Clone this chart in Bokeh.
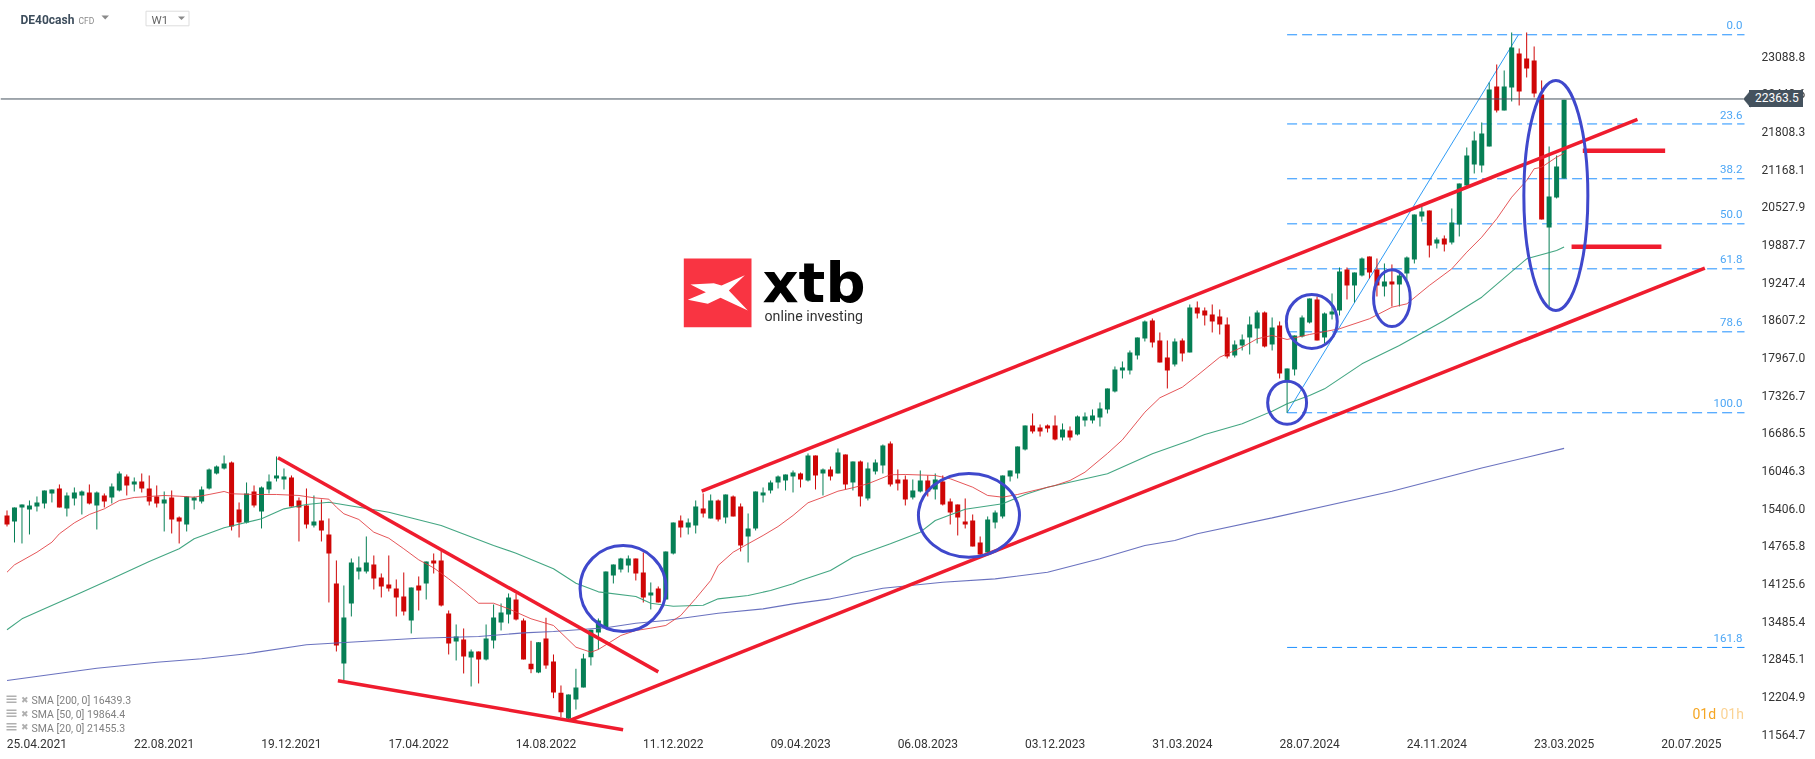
from bokeh.plotting import figure
from bokeh.layouts import column
from bokeh.models import Range1d, FixedTicker, PrintfTickFormatter, ColumnDataSource, Div, PolyAnnotation
from bokeh.core.properties import value
from bokeh.embed import file_html
from bokeh.resources import INLINE

CAL = -15  # calibration of the values

opens = [15298,15196,15434,15400,15451,15502,15672,15757,15417,15587,
15638,15689,15468,15638,15604,15723,15961,15825,15876,15757,
15621,15502,15604,15264,15145,15553,15536,15757,16012,16097,
16199,15400,15179,15706,15366,15740,15927,15910,15944,15553,
15468,15128,15213,14975,14142,12782,13802,14346,14346,14465,
14244,14125,14057,13921,13513,14108,14142,14533,14533,13632,
13156,13190,12884,12986,12850,13173,13479,13615,13870,13513,
12777,12629,13207,12816,12284,11842,12170,12374,12889,13309,
13394,14278,14380,14448,14567,14329,13938,14057,13870,14652,
15213,15094,15128,15417,15247,15553,15264,15621,15451,14941,
15077,15638,15723,15859,15893,15961,16012,15893,16318,16012,
16080,16012,16335,15859,16216,15587,16046,16148,16522,15910,
15910,15604,15706,15893,15740,15876,15536,15485,15196,15213,
14839,14669,15179,15281,15961,16012,16420,16828,16794,16828,
16828,16624,16743,16675,16913,16913,16964,17100,17406,17763,
17763,18018,18307,18613,18273,17984,17865,18273,18069,18834,
18783,18715,18681,18545,18018,18188,18324,18477,18749,18205,
18528,17593,17780,18341,18579,18970,18324,18715,18783,19480,
19208,19378,19701,19480,19191,19276,19225,19412,19650,20381,
20483,19922,20007,19939,20245,20908,21265,21248,21571,22591,
22183,22574,23152,23067,23033,22455,20194,20704,21027]
highs = [15383,15434,15485,15553,15621,15723,15740,15825,15689,15774,
15723,15825,15706,15672,15842,16046,15995,15944,16012,15978,
15808,15706,15723,15281,15621,15621,15791,16097,16148,16318,
16216,15519,15859,15808,15791,15995,16301,16097,15978,15604,
15757,15638,15570,15247,14533,14108,14567,14601,14941,14618,
14312,14618,14210,14329,14074,14261,14516,14652,14703,13683,
13445,13377,13020,12986,13445,13785,13802,13972,13972,13547,
13168,13144,13559,12935,12408,12255,12692,12947,13355,13547,
14346,14465,14578,14618,14567,14669,14159,14091,14686,15179,
15298,15247,15553,15672,15655,15570,15655,15638,15502,15332,
15706,15774,15893,15978,15995,16063,16029,16352,16318,16097,
16131,16437,16335,16216,16233,16199,16250,16505,16556,16080,
15978,15910,16063,15978,16012,15978,15587,15485,15587,15315,
14941,15281,15383,15978,16063,16471,16828,17032,16845,16845,
16998,16862,16811,16998,17049,17100,17219,17457,17831,17916,
18103,18324,18613,18647,18409,18273,18307,18307,18885,18936,
18834,18885,18800,18664,18273,18375,18681,18783,18766,18664,
18596,17797,18358,18698,18987,19021,18749,19072,19514,19514,
19429,19684,19701,19667,19582,19565,19446,19701,20415,20551,
20483,20024,20058,20517,20942,21554,21826,21979,22659,22965,
22863,23509,23237,23509,23271,22693,21571,21418,22364]
lows = [15111,14839,14822,14975,15366,15417,15519,15434,15281,15468,
15315,15485,15060,15434,15502,15706,15638,15706,15689,15468,
15434,15026,14992,14822,15026,15400,15502,15740,15995,16080,
15043,14924,15162,15434,15077,15672,15876,15740,15451,14856,
15077,15094,14856,13819,12986,12493,13581,14210,14312,14040,
13904,14006,13581,13598,13292,13683,13870,14312,13751,12935,
12833,12612,12391,12442,12833,13037,13343,13462,13513,12850,
12617,12617,12692,12192,11870,11813,11999,12374,12748,13020,
13394,14142,14329,14329,14193,13819,13700,13819,13870,14635,
14924,14975,14992,15264,15247,15196,15162,15281,14686,14499,
15043,15519,15672,15757,15723,15689,15774,15876,15740,15638,
15893,16012,15740,15723,15451,15553,15995,16012,15791,15723,
15468,15570,15689,15621,15570,15468,15145,14958,15077,14771,
14618,14652,15077,15247,15876,15927,16403,16692,16641,16709,
16573,16573,16573,16658,16811,16862,16811,17032,17389,17627,
17695,17950,18256,18154,17899,17457,17831,17916,18069,18647,
18528,18409,18375,17967,17984,18103,18035,18222,18154,18103,
17627,17044,17678,18324,18562,18273,18222,18630,18698,18970,
18919,19361,19327,19021,19021,18851,18851,19293,19582,20296,
19684,19837,19786,19905,20041,20874,21112,21129,21571,22149,
22183,22336,22268,22744,22404,20330,18851,20687,21027]
closes = [15145,15434,15485,15468,15519,15723,15740,15434,15638,15689,
15706,15502,15689,15536,15791,16012,15808,15876,15757,15536,
15502,15570,15230,15196,15621,15604,15740,16080,16131,16182,
15111,15179,15672,15468,15774,15876,15978,15961,15451,15434,
15145,15196,15043,14652,13088,13564,14499,14414,14499,14227,
14091,14057,13904,13666,14074,14023,14516,14482,13768,13122,
13241,12901,12986,12850,13207,13564,13649,13904,13530,12850,
12685,13144,12748,12289,11954,12255,12374,12867,13355,13513,
14346,14465,14567,14567,14312,13904,13989,13819,14686,15179,
15094,15179,15451,15332,15553,15230,15655,15281,14788,15077,
15706,15689,15859,15961,15995,16029,15910,16318,15978,16080,
15961,16369,15825,16216,15621,16097,16199,16488,15825,15842,
15570,15723,15893,15706,15910,15485,15349,15264,15145,14771,
14635,15230,15349,15978,16063,16471,16828,16726,16726,16777,
16590,16760,16624,16981,16981,16998,17117,17457,17780,17814,
18069,18324,18596,18239,17899,17763,18256,18052,18834,18732,
18698,18596,18545,18001,18205,18290,18545,18749,18171,18494,
17712,17797,18358,18664,18987,18273,18732,18766,19446,19208,
19429,19667,19429,19208,19276,19225,19378,19684,20415,20466,
19888,19990,19905,20279,20942,21418,21673,21792,22540,22183,
22591,23254,22506,22897,22472,20330,20721,21231,22364]

sma20_week = [0,1,4,6,7,9,11,13,15,17,19,21,23,25,27,29,30,33,36,39,41,43,44,45,47,49,51,53,55,57,59,61,63,65,67,70,73,76,78,79,82,84,86,88,90,92,94,95,97,99,101,103,105,107,109,111,113,115,118,120,124,126,129,131,133,135,140,142,144,147,149,152,154,157,159,162,165,167,169,171,174,178,182,185,187,190,193,195,197,199,201,203,204,205,207,208]
sma20_val = [14334,14459,14674,14844,14987,15173,15315,15411,15553,15604,15621,15638,15626,15609,15655,15706,15667,15655,15655,15638,15599,15575,15439,15327,15230,15014,14912,14732,14544,14408,14221,14022,13806,13806,13711,13542,13428,13059,12974,13020,13258,13343,13382,13428,13598,13887,14193,14448,14674,14817,14958,15110,15298,15514,15609,15711,15769,15837,15990,15995,15978,15922,15779,15638,15609,15655,15808,15893,16034,16352,16584,17054,17299,17479,17678,17989,18159,18302,18358,18290,18375,18472,18642,18839,18896,19208,19491,19774,20029,20342,20709,20993,21192,21219,21389,21455]

sma50_week = [0,2,5,10,14,19,23,25,29,34,37,40,43,51,58,65,68,73,76,79,84,86,89,93,95,99,102,105,106,110,113,118,122,124,128,133,136,139,147,153,158,160,165,169,171,174,176,181,186,192,197,203,207,208]
sma50_val = [13355,13541,13711,13994,14221,14516,14732,14902,15089,15242,15411,15484,15524,15354,15128,14788,14657,14392,14147,14000,13921,13807,13756,13772,13881,13938,14023,14137,14193,14363,14589,14817,15014,15213,15405,15497,15655,15779,16006,16346,16573,16675,16856,17071,17197,17338,17451,17876,18188,18613,19009,19661,19803,19864]

sma200_week = [0,12,20,26,32,40,48,55,63,69,73,80,84,88,95,101,105,110,117,125,132,139,146,152,156,159,169,185,197,208]
sma200_val = [12493,12702,12804,12862,12947,13100,13161,13212,13241,13303,13325,13389,13467,13513,13637,13711,13796,13881,14062,14164,14221,14334,14561,14788,14873,14987,15257,15711,16104,16439]

fib_levels = [23470,21954,21022,20256,19491,18420,17044,13055]
fib_names = ["0.0","23.6","38.2","50.0","61.8","78.6","100.0","161.8"]
fib_start_week, fib_end_week = 171, 232
diag_week = [171, 201.9]
diag_val = [17044, 23470]

trend_week0 = [36.2,44.2,75.2,92.8]
trend_week1 = [87,82.3,226.8,217.8]
trend_val0 = [16279,12488,11813,15711]
trend_val1 = [12639,11656,19502,22030]
flat_week0 = [210.5,209]
flat_week1 = [221.5,221]
flat_val = [21497,19865]

ring_week = [82.3,128.5,171,174.3,185,206.9]
ring_val = [14057,15301,17214,18596,18992,20738]
ring_w = [11.5,13.5,5.2,6.8,4.9,8.55]
ring_h = [1462,1423,731,918,964,3910]

date_labels = ["25.04.2021","22.08.2021","19.12.2021","17.04.2022","14.08.2022","11.12.2022","09.04.2023","06.08.2023","03.12.2023","31.03.2024","28.07.2024","24.11.2024","23.03.2025","20.07.2025"]
date_weeks = [4,21,38,55,72,89,106,123,140,157,174,191,208,225]
price_ticks = [23088.8,22448.6,21808.3,21168.1,20527.9,19887.7,19247.4,18607.2,17967.0,17326.7,16686.5,16046.3,15406.0,14765.8,14125.6,13485.4,12845.1,12204.9,11564.7]
last_price = 22363.5
sma_legend = ["SMA [200,  0] 16439.3","SMA [50,  0] 19864.4","SMA [20,  0] 21455.3"]

def cal(vals): return [v + CAL for v in vals]
opens, highs, lows, closes = cal(opens), cal(highs), cal(lows), cal(closes)
sma20_val, sma50_val, sma200_val = cal(sma20_val), cal(sma50_val), cal(sma200_val)
fib_levels, diag_val, trend_val0, trend_val1 = cal(fib_levels), cal(diag_val), cal(trend_val0), cal(trend_val1)
flat_val, ring_val = cal(flat_val), cal(ring_val)

PX_W = 7.486   # pixels per week
X0 = 6.5       # pixel of the first candle
PX_P = 17.0    # price per pixel
TOPP = 24052.7 + CAL # price at top edge
FRAME_W, FRAME_H = 1750, 736

def X(px): return (px - X0) / PX_W
def Y(py): return TOPP - PX_P * py

GREEN, RED = "#067f55", "#cf0606"
FONT = value("Roboto")

p = figure(width=1815, height=759, output_backend="svg", toolbar_location=None,
           x_range=Range1d(X(0), X(FRAME_W)), y_range=Range1d(Y(FRAME_H), Y(0)),
           y_axis_location="right", min_border_left=0, min_border_top=0,
           min_border_right=1815-FRAME_W, min_border_bottom=759-FRAME_H,
           background_fill_color="white", border_fill_color="white")
p.outline_line_color = None
p.grid.visible = False

for ax in (p.xaxis[0], p.yaxis[0]):
    ax.axis_line_color = None
    ax.major_tick_line_color = None
    ax.minor_tick_line_color = None
    ax.major_label_text_font = "Roboto"
    ax.major_label_text_font_size = "12px"
    ax.major_label_text_color = "#333333"
p.xaxis[0].ticker = FixedTicker(ticks=date_weeks)
p.xaxis[0].major_label_overrides = {w: d for w, d in zip(date_weeks, date_labels)}
p.xaxis[0].major_label_standoff = -4
p.yaxis[0].ticker = FixedTicker(ticks=price_ticks)
p.yaxis[0].formatter = PrintfTickFormatter(format="%.1f")
p.yaxis[0].major_label_standoff = 5

# fibonacci
p.segment([fib_start_week]*len(fib_levels), fib_levels, [fib_end_week+.1]*len(fib_levels), fib_levels,
          line_color="#1e90ff", line_width=1, line_dash="10 5")
p.text([X(1742)]*len(fib_levels), [v + 160 for v in fib_levels], text=fib_names,
       text_font=FONT, text_font_size="11.5px", text_color="#4ca6f5", text_align="right", text_baseline="middle")
p.line(diag_week, diag_val, line_color="#2f9bf5", line_width=1)

# candles
weeks = list(range(len(opens)))
src = ColumnDataSource(dict(w=weeks, o=opens, h=highs, l=lows, c=closes,
                            col=[GREEN if c >= o else RED for o, c in zip(opens, closes)]))
p.segment("w", "h", "w", "l", source=src, line_color="col", line_width=1)
p.vbar("w", width=5/PX_W, top="o", bottom="c", source=src, fill_color="col", line_color=None)

# moving averages
p.line(sma200_week, sma200_val, line_color="#5a63b8", line_width=1.1, line_alpha=0.9)
p.line(sma50_week, sma50_val, line_color="#2f9c74", line_width=1.1, line_alpha=0.9)
p.line(sma20_week, sma20_val, line_color="#e0383c", line_width=1, line_alpha=0.85)

# last price
p.segment([X(0)], [last_price], [X(1743)], [last_price], line_color="#44525e", line_width=1)

# trend lines
p.segment(trend_week0, trend_val0, trend_week1, trend_val1, line_color="#ef1c2e", line_width=3.5)
p.segment(flat_week0, flat_val, flat_week1, flat_val, line_color="#ef1c2e", line_width=4.5)

# rings
p.ellipse(ring_week, ring_val, width=ring_w, height=ring_h, fill_color=None, line_color="#3f48cc", line_width=3)

# price tag tip (the body of the tag is the Div below)
p.add_layout(PolyAnnotation(xs=[X(1743), X(1750), X(1750)],
                            ys=[last_price, Y(90), Y(107)],
                            fill_color="#44525e", fill_alpha=1, line_color="#44525e"))

# logo
p.patch([X(683.3), X(751), X(751), X(683.3)], [Y(258), Y(258), Y(326.7), Y(326.7)], fill_color="#f93442", line_color=None)
logo_pts = [(253,104),(205,150),(262,210),(180,172),(142,190),(82,178),(136,155),(90,132),(160,128),(183,135)]
p.patch([X(660+a/3) for a, b in logo_pts], [Y(240+b/3) for a, b in logo_pts], fill_color="white", line_color=None)
p.text([X(762)], [Y(281.5)], text=["xtb"], text_font=value("DejaVu Sans"), text_font_style="bold", text_font_size="56px",
       text_color="black", text_align="left", text_baseline="middle")
p.text([X(764)], [Y(315)], text=["online investing"], text_font=FONT, text_font_size="14.2px",
       text_color="#333333", text_align="left", text_baseline="middle")

# header
def label(px, py, s, size, color, style="normal", align="left"):
    p.text([X(px)], [Y(py)], text=[s], text_font=FONT, text_font_size=size, text_color=color,
           text_font_style=style, text_align=align, text_baseline="middle")
label(20, 19, "DE40cash", "12px", "#3d4d5c", "bold")
label(78, 20, "CFD", "8.5px", "#8a8a8a")
p.patch([X(101), X(108.5), X(104.7)], [Y(15), Y(15), Y(19)], fill_color="#8a8a8a", line_color=None)
p.quad(left=[X(145.5)], right=[X(188.5)], top=[Y(10.7)], bottom=[Y(25.3)], fill_color="white", line_color="#dddddd")
label(151, 19, "W1", "11.5px", "#666666")
p.patch([X(177.5), X(184.5), X(181)], [Y(16), Y(16), Y(19.5)], fill_color="#8a8a8a", line_color=None)

# legend
for s, yy in zip(sma_legend, (700, 714, 727.5)):
    label(31, yy, s, "10.5px", "#808080")
    label(20, yy - 1, "\u2716", "9px", "#b0b0b0")
    for dy in (-4, -1, 2):
        p.quad(left=[X(6)], right=[X(16)], top=[Y(yy+dy-1)], bottom=[Y(yy+dy+.5)], fill_color="#b0b0b0", line_color=None)

# countdown
label(1692, 713, "01d", "14px", "#f5a623")
label(1720, 713, "01h", "14px", "#fbd394")

tag = Div(text="22363.5", width=54, height=17,
          styles={"position": "absolute", "left": "1749px", "top": "90px", "width": "54px", "height": "17px",
                  "background": "#44525e", "color": "white", "font-family": "Roboto", "font-size": "12px",
                  "line-height": "17px", "padding-left": "6px", "box-sizing": "border-box", "z-index": "10", "margin": "0"})

page = column(p, tag, width=1815, height=759,
              styles={"position": "fixed", "left": "0px", "top": "0px"})

open("out.html", "w").write(file_html(page, INLINE))
